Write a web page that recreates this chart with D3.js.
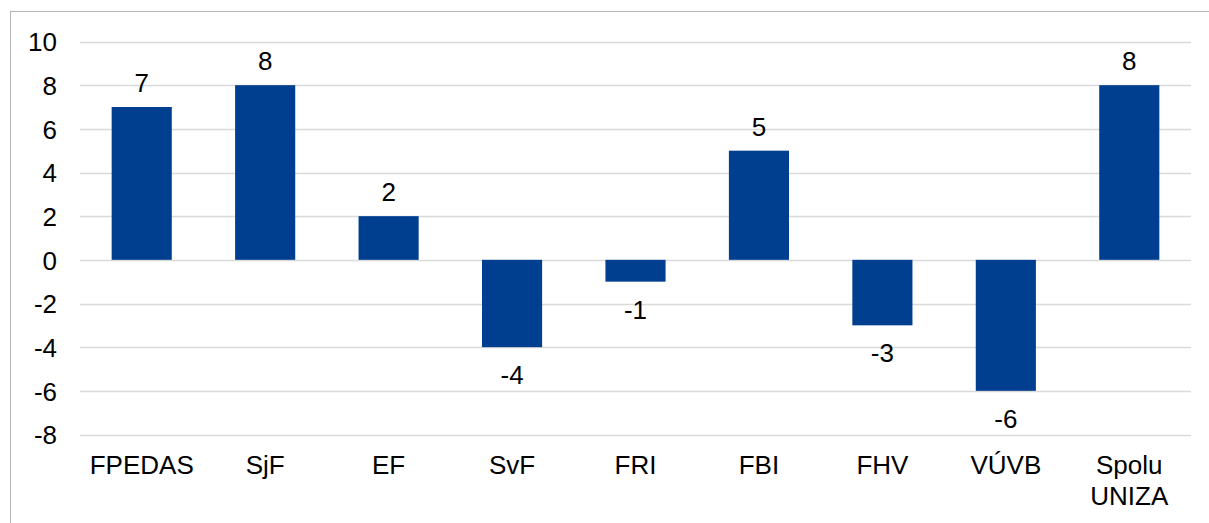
<!DOCTYPE html>
<html>
<head>
<meta charset="utf-8">
<script src="https://cdn.jsdelivr.net/npm/d3@7"></script>
<style>
  html, body { margin: 0; padding: 0; background: #fff; }
  svg { display: block; font-family: "Liberation Sans", Arial, sans-serif; }
</style>
</head>
<body>
<svg id="chart" width="1209" height="523"></svg>
<script>
// Faculty categories (two-line labels split on "\n")
const categories = ["FPEDAS", "SjF", "EF", "SvF", "FRI", "FBI", "FHV", "VÚVB", "Spolu\nUNIZA"];
const values = [7, 8, 2, -4, -1, 5, -3, -6, 8];
const yTicks = [-8, -6, -4, -2, 0, 2, 4, 6, 8, 10];

const svg = d3.select("#chart");
const W = 1209, H = 523;
const plot = { left: 80, right: 1191, top: 41.5, bottom: 434.5 };
const FS = 26;

// outer chart frame
svg.append("rect")
  .attr("x", 10.5).attr("y", 11.5)
  .attr("width", W + 10).attr("height", H + 10)
  .attr("fill", "none").attr("stroke", "#b4b4b4").attr("stroke-width", 1);

const x = d3.scaleBand()
  .domain(categories)
  .range([plot.left, plot.right])
  .paddingInner(0.513).paddingOuter(0.2565);

const y = d3.scaleLinear()
  .domain([-8, 10])
  .range([plot.bottom, plot.top]);

// horizontal gridlines
svg.append("g")
  .selectAll("line")
  .data(yTicks)
  .join("line")
  .attr("x1", plot.left).attr("x2", plot.right)
  .attr("y1", d => Math.round(y(d)) + 0.5).attr("y2", d => Math.round(y(d)) + 0.5)
  .attr("stroke", "#d9d9d9").attr("stroke-width", 1.5);

// y axis labels
const yAxis = d3.axisLeft(y).tickValues(yTicks).tickSize(0).tickPadding(0)
  .tickFormat(d => String(d));
const gy = svg.append("g")
  .attr("transform", `translate(${plot.left - 23},0)`)
  .call(yAxis);
gy.select(".domain").remove();
gy.attr("font-size", null).attr("font-family", null);
gy.selectAll("text")
  .attr("font-size", FS)
  .attr("fill", "#000")
  .attr("dy", "0.36em");

// bars
svg.append("g")
  .selectAll("rect")
  .data(values)
  .join("rect")
  .attr("x", (d, i) => x(categories[i]))
  .attr("width", x.bandwidth())
  .attr("y", d => y(Math.max(0, d)))
  .attr("height", d => Math.abs(y(d) - y(0)))
  .attr("fill", "#003f8f");

// value labels
svg.append("g")
  .selectAll("text")
  .data(values)
  .join("text")
  .attr("x", (d, i) => x(categories[i]) + x.bandwidth() / 2)
  .attr("y", d => d >= 0 ? y(d) - 15 : y(d) + 37)
  .attr("text-anchor", "middle")
  .attr("font-size", FS)
  .attr("fill", "#000")
  .text(d => String(d));

// category labels
const gx = svg.append("g");
categories.forEach(c => {
  const lines = c.split("\n");
  const t = gx.append("text")
    .attr("x", x(c) + x.bandwidth() / 2)
    .attr("y", 474)
    .attr("text-anchor", "middle")
    .attr("font-size", FS)
    .attr("fill", "#000");
  lines.forEach((ln, k) => {
    t.append("tspan")
      .attr("x", x(c) + x.bandwidth() / 2)
      .attr("dy", k === 0 ? 0 : 31)
      .text(ln);
  });
});
</script>
</body>
</html>
